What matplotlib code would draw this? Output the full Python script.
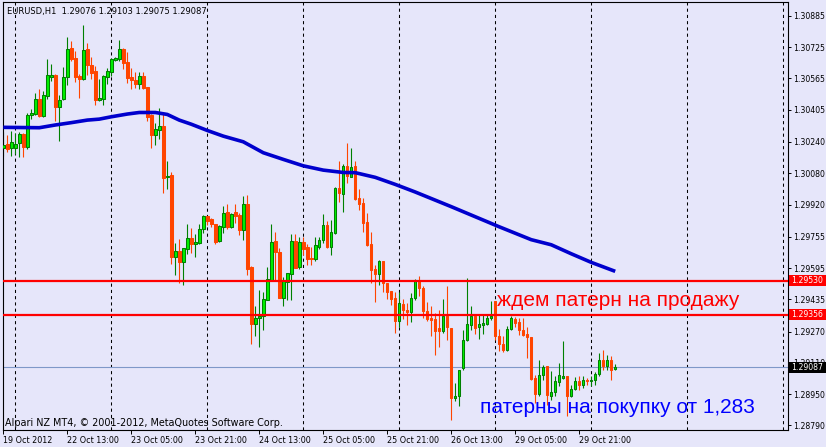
import matplotlib
matplotlib.use('Agg')
import matplotlib.pyplot as plt
from matplotlib.patches import Rectangle
from matplotlib.transforms import blended_transform_factory

# EURUSD H1 bars, 19 Oct 2012 21:00 -> 30 Oct 2012 06:00
opens = [1.30207, 1.30229, 1.30207, 1.30211, 1.30233, 1.30281, 1.30216, 1.30376, 1.30385, 1.30460,
         1.30374, 1.30477, 1.30574, 1.30582, 1.30420, 1.30458, 1.30571, 1.30721, 1.30670, 1.30577,
         1.30560, 1.30714, 1.30632, 1.30603, 1.30455, 1.30461, 1.30574, 1.30600, 1.30661, 1.30666,
         1.30716, 1.30649, 1.30572, 1.30557, 1.30535, 1.30579, 1.30521, 1.30378, 1.30277, 1.30303,
         1.30321, 1.30062, 1.30071, 1.29649, 1.29682, 1.29627, 1.29694, 1.29747, 1.29716, 1.29724,
         1.29796, 1.29861, 1.29844, 1.29818, 1.29731, 1.29806, 1.29880, 1.29806, 1.29881, 1.29866,
         1.29791, 1.29922, 1.29600, 1.29310, 1.29341, 1.29351, 1.29433, 1.29535, 1.29733, 1.29677,
         1.29443, 1.29525, 1.29566, 1.29733, 1.29598, 1.29728, 1.29704, 1.29644, 1.29639, 1.29704,
         1.29736, 1.29815, 1.29701, 1.29776, 1.30003, 1.29975, 1.30117, 1.30062, 1.30117, 1.29953,
         1.29927, 1.29830, 1.29718, 1.29590, 1.29562, 1.29631, 1.29520, 1.29475, 1.29441, 1.29325,
         1.29411, 1.29380, 1.29371, 1.29441, 1.29530, 1.29492, 1.29376, 1.29341, 1.29335, 1.29288,
         1.29271, 1.29351, 1.29288, 1.28929, 1.28938, 1.29081, 1.29228, 1.29305, 1.29351, 1.29291,
         1.29301, 1.29310, 1.29337, 1.29424, 1.29245, 1.29207, 1.29177, 1.29281, 1.29335, 1.29317,
         1.29279, 1.29257, 1.29243, 1.29032, 1.28952, 1.29045, 1.29091, 1.28938, 1.28963, 1.29011,
         1.29032, 1.29040, 1.28938, 1.28977, 1.29018, 1.28998, 1.29023, 1.29015, 1.29020, 1.29052,
         1.29126, 1.29091, 1.29122, 1.29076]
highs = [1.30293, 1.30275, 1.30296, 1.30284, 1.30293, 1.30287, 1.30390, 1.30410, 1.30492, 1.30511,
         1.30502, 1.30664, 1.30640, 1.30588, 1.30480, 1.30622, 1.30779, 1.30758, 1.30705, 1.30588,
         1.30838, 1.30748, 1.30676, 1.30627, 1.30560, 1.30582, 1.30617, 1.30671, 1.30676, 1.30762,
         1.30719, 1.30702, 1.30620, 1.30600, 1.30600, 1.30596, 1.30523, 1.30381, 1.30339, 1.30412,
         1.30381, 1.30142, 1.30086, 1.29724, 1.29743, 1.29695, 1.29818, 1.29798, 1.29771, 1.29818,
         1.29866, 1.29863, 1.29849, 1.29822, 1.29813, 1.29910, 1.29922, 1.29875, 1.29922, 1.29875,
         1.29963, 1.29968, 1.29603, 1.29400, 1.29480, 1.29472, 1.29600, 1.29820, 1.29777, 1.29699,
         1.29550, 1.29567, 1.29767, 1.29767, 1.29752, 1.29752, 1.29718, 1.29704, 1.29755, 1.29752,
         1.29871, 1.29837, 1.29840, 1.30008, 1.30142, 1.30125, 1.30233, 1.30211, 1.30142, 1.29997,
         1.29955, 1.29878, 1.29781, 1.29610, 1.29636, 1.29631, 1.29520, 1.29475, 1.29472, 1.29472,
         1.29434, 1.29414, 1.29467, 1.29538, 1.29556, 1.29501, 1.29421, 1.29399, 1.29364, 1.29382,
         1.29436, 1.29504, 1.29288, 1.29006, 1.29074, 1.29279, 1.29544, 1.29399, 1.29361, 1.29356,
         1.29359, 1.29361, 1.29424, 1.29424, 1.29283, 1.29245, 1.29296, 1.29351, 1.29342, 1.29339,
         1.29339, 1.29293, 1.29243, 1.29049, 1.29122, 1.29100, 1.29091, 1.29066, 1.29044, 1.29108,
         1.29224, 1.29044, 1.28994, 1.29037, 1.29044, 1.29040, 1.29032, 1.29040, 1.29061, 1.29160,
         1.29177, 1.29151, 1.29143, 1.29103]
lows = [1.30170, 1.30190, 1.30170, 1.30176, 1.30161, 1.30161, 1.30202, 1.30356, 1.30378, 1.30366,
        1.30369, 1.30458, 1.30553, 1.30349, 1.30246, 1.30453, 1.30533, 1.30652, 1.30547, 1.30466,
        1.30557, 1.30582, 1.30564, 1.30427, 1.30448, 1.30431, 1.30536, 1.30577, 1.30654, 1.30656,
        1.30613, 1.30540, 1.30511, 1.30514, 1.30513, 1.30513, 1.30349, 1.30211, 1.30226, 1.30255,
        1.29980, 1.29997, 1.29617, 1.29559, 1.29520, 1.29508, 1.29665, 1.29673, 1.29649, 1.29716,
        1.29772, 1.29815, 1.29806, 1.29718, 1.29728, 1.29776, 1.29796, 1.29801, 1.29827, 1.29765,
        1.29738, 1.29557, 1.29207, 1.29247, 1.29190, 1.29277, 1.29433, 1.29530, 1.29533, 1.29440,
        1.29400, 1.29431, 1.29431, 1.29595, 1.29588, 1.29661, 1.29610, 1.29610, 1.29632, 1.29690,
        1.29721, 1.29699, 1.29661, 1.29771, 1.29934, 1.29883, 1.30032, 1.30059, 1.29943, 1.29892,
        1.29779, 1.29709, 1.29520, 1.29421, 1.29508, 1.29470, 1.29436, 1.29405, 1.29260, 1.29295,
        1.29332, 1.29303, 1.29320, 1.29433, 1.29453, 1.29339, 1.29322, 1.29245, 1.29151, 1.29190,
        1.29262, 1.29228, 1.28819, 1.28912, 1.28890, 1.29074, 1.29219, 1.29279, 1.29257, 1.29233,
        1.29257, 1.29301, 1.29330, 1.29228, 1.29172, 1.29165, 1.29168, 1.29279, 1.29293, 1.29254,
        1.29245, 1.29134, 1.29020, 1.28904, 1.28938, 1.29023, 1.28895, 1.28921, 1.28938, 1.28992,
        1.29027, 1.28836, 1.28935, 1.28972, 1.28972, 1.28981, 1.28998, 1.28989, 1.28995, 1.29040,
        1.29071, 1.29071, 1.29023, 1.29075]
closes = [1.30224, 1.30206, 1.30238, 1.30228, 1.30279, 1.30216, 1.30376, 1.30386, 1.30460, 1.30373,
          1.30478, 1.30581, 1.30582, 1.30420, 1.30455, 1.30571, 1.30714, 1.30666, 1.30574, 1.30562,
          1.30709, 1.30632, 1.30594, 1.30456, 1.30465, 1.30577, 1.30603, 1.30663, 1.30670, 1.30714,
          1.30646, 1.30569, 1.30557, 1.30536, 1.30577, 1.30516, 1.30369, 1.30275, 1.30306, 1.30321,
          1.30057, 1.30066, 1.29653, 1.29682, 1.29625, 1.29695, 1.29747, 1.29716, 1.29728, 1.29793,
          1.29859, 1.29837, 1.29818, 1.29728, 1.29810, 1.29875, 1.29803, 1.29869, 1.29863, 1.29791,
          1.29922, 1.29591, 1.29310, 1.29337, 1.29351, 1.29434, 1.29537, 1.29728, 1.29677, 1.29441,
          1.29528, 1.29567, 1.29733, 1.29596, 1.29728, 1.29694, 1.29639, 1.29639, 1.29711, 1.29738,
          1.29815, 1.29701, 1.29777, 1.30003, 1.29979, 1.30117, 1.30064, 1.30112, 1.29950, 1.29921,
          1.29827, 1.29714, 1.29583, 1.29564, 1.29631, 1.29516, 1.29474, 1.29434, 1.29325, 1.29414,
          1.29378, 1.29370, 1.29441, 1.29527, 1.29492, 1.29373, 1.29335, 1.29327, 1.29271, 1.29271,
          1.29351, 1.29291, 1.28929, 1.28941, 1.29074, 1.29228, 1.29308, 1.29351, 1.29286, 1.29308,
          1.29313, 1.29339, 1.29351, 1.29245, 1.29206, 1.29177, 1.29283, 1.29337, 1.29313, 1.29276,
          1.29254, 1.29240, 1.29027, 1.28952, 1.29049, 1.29086, 1.28943, 1.28963, 1.29015, 1.29045,
          1.29040, 1.28938, 1.28977, 1.29018, 1.28994, 1.29023, 1.29018, 1.29023, 1.29054, 1.29122,
          1.29091, 1.29122, 1.29071, 1.29087]

# moving average, sampled at bar indices
ma_idx = [0, 9, 13, 17, 21, 24, 27, 31, 34, 38, 41, 44, 47, 51, 55, 60, 65, 70, 75, 80,
          85, 88, 93, 98, 103, 112, 124, 132, 137, 142, 147, 153]
ma_vals = [1.30315, 1.30313, 1.30327, 1.30339, 1.30352, 1.30357, 1.30369, 1.30383, 1.30391, 1.30391,
           1.30381, 1.30352, 1.30331, 1.30299, 1.30270, 1.30241, 1.30185, 1.30151, 1.30118, 1.30096,
           1.30084, 1.30083, 1.30059, 1.30023, 1.29984, 1.29909, 1.29806, 1.29740, 1.29714, 1.29668,
           1.29624, 1.29578]

level_sell = 1.29530
level_buy = 1.29356
last_price = 1.29087

price_ticks = [1.30885, 1.30725, 1.30565, 1.30405, 1.30240, 1.30080, 1.29920,
               1.29755, 1.29595, 1.29435, 1.29270, 1.29110, 1.28950, 1.28790]
time_pos = [0, 16, 32, 48, 64, 80, 96, 112, 128, 144]
time_labels = ["19 Oct 2012", "22 Oct 13:00", "23 Oct 05:00", "23 Oct 21:00", "24 Oct 13:00",
               "25 Oct 05:00", "25 Oct 21:00", "26 Oct 13:00", "29 Oct 05:00", "29 Oct 21:00"]
day_starts = [3, 27, 51, 75, 99, 123, 147, 171, 195]

title = "EURUSD,H1  1.29076 1.29103 1.29075 1.29087"
copyright_txt = "Alpari NZ MT4, \u00a9 2001-2012, MetaQuotes Software Corp."
sell_txt = "ждем патерн на продажу"
buy_txt = "патерны на покупку от 1,283"

BG = '#E6E6FA'
W, H = 826, 447
fig = plt.figure(figsize=(W / 100, H / 100), dpi=100, facecolor=BG)
ax = fig.add_axes([2.7 / W, (H - 430) / H, (788 - 2.7) / W, (430 - 1.5) / H])
ax.set_facecolor(BG)
ax.set_xlim(-0.15, 196.2)
ax.set_ylim(1.28766, 1.30959)

# day separators
for d in day_starts:
    ax.axvline(d, color='black', linewidth=0.75, linestyle=(0, (3, 3)), zorder=1)

# last price line
ax.axhline(last_price, color='#7F98C8', linewidth=0.8, zorder=1.5)

# candles
bull_edge, bull_face, bear = '#008000', '#00F000', '#FF4500'
for i in range(len(opens)):
    o, h, l, c = opens[i], highs[i], lows[i], closes[i]
    up = c > o
    col = bull_edge if up else bear
    ax.vlines(i, l, h, color=col, linewidth=0.8, zorder=2)
    ax.bar(i, c - o, bottom=o, width=0.62,
           color=bull_face if up else bear,
           edgecolor=col, linewidth=0.75, zorder=3)

# moving average
ax.plot(ma_idx, ma_vals, color='#0000CD', linewidth=2.6, zorder=4, solid_capstyle='butt')

# horizontal levels
for lv in (level_sell, level_buy):
    ax.axhline(lv, color='#FF0000', linewidth=1.6, zorder=5)

ax.text(123.4, 1.29431, sell_txt, color='#FF0000', fontsize=15,
        family='Liberation Sans', va='center', ha='left', zorder=6)
ax.text(119.2, 1.28883, buy_txt, color='#0000FF', fontsize=15,
        family='Liberation Sans', va='center', ha='left', zorder=6)

ax.text(0.006, 0.977, title, transform=ax.transAxes, fontsize=6,
        family='DejaVu Sans', va='center', ha='left', zorder=6)
ax.text(0.003, 0.017, copyright_txt, transform=ax.transAxes, fontsize=6.9,
        family='DejaVu Sans', va='center', ha='left', zorder=6)

# axes styling like the terminal
for s in ax.spines.values():
    s.set_color('black')
    s.set_linewidth(0.8)
ax.yaxis.tick_right()
ax.set_yticks(price_ticks)
ax.set_yticklabels([f"{p:.5f}" for p in price_ticks])
ax.tick_params(axis='y', length=2.5, width=0.7, pad=1.2, labelsize=5.6, colors='black')
ax.set_xticks(time_pos)
ax.set_xticklabels(time_labels, ha='left')
ax.tick_params(axis='x', length=3, width=0.7, pad=1, labelsize=5.8, colors='black')
for lab in ax.get_xticklabels() + ax.get_yticklabels():
    lab.set_family('DejaVu Sans')

# price tags on the right scale
tr = blended_transform_factory(ax.transAxes, ax.transData)
px = 0.0000512
for lv, fc in ((level_sell, '#FF0000'), (level_buy, '#FF0000'), (last_price, 'black')):
    ax.add_patch(Rectangle((1.0013, lv - 5.5 * px), 0.05, 11 * px, transform=tr,
                           facecolor=fc, edgecolor='none', clip_on=False, zorder=7))
    ax.text(1.0040, lv, f"{lv:.5f}", transform=tr, color='white', fontsize=5.6,
            family='DejaVu Sans', va='center', ha='left', clip_on=False, zorder=8)

fig.savefig('out.png', dpi=100, facecolor=fig.get_facecolor())
